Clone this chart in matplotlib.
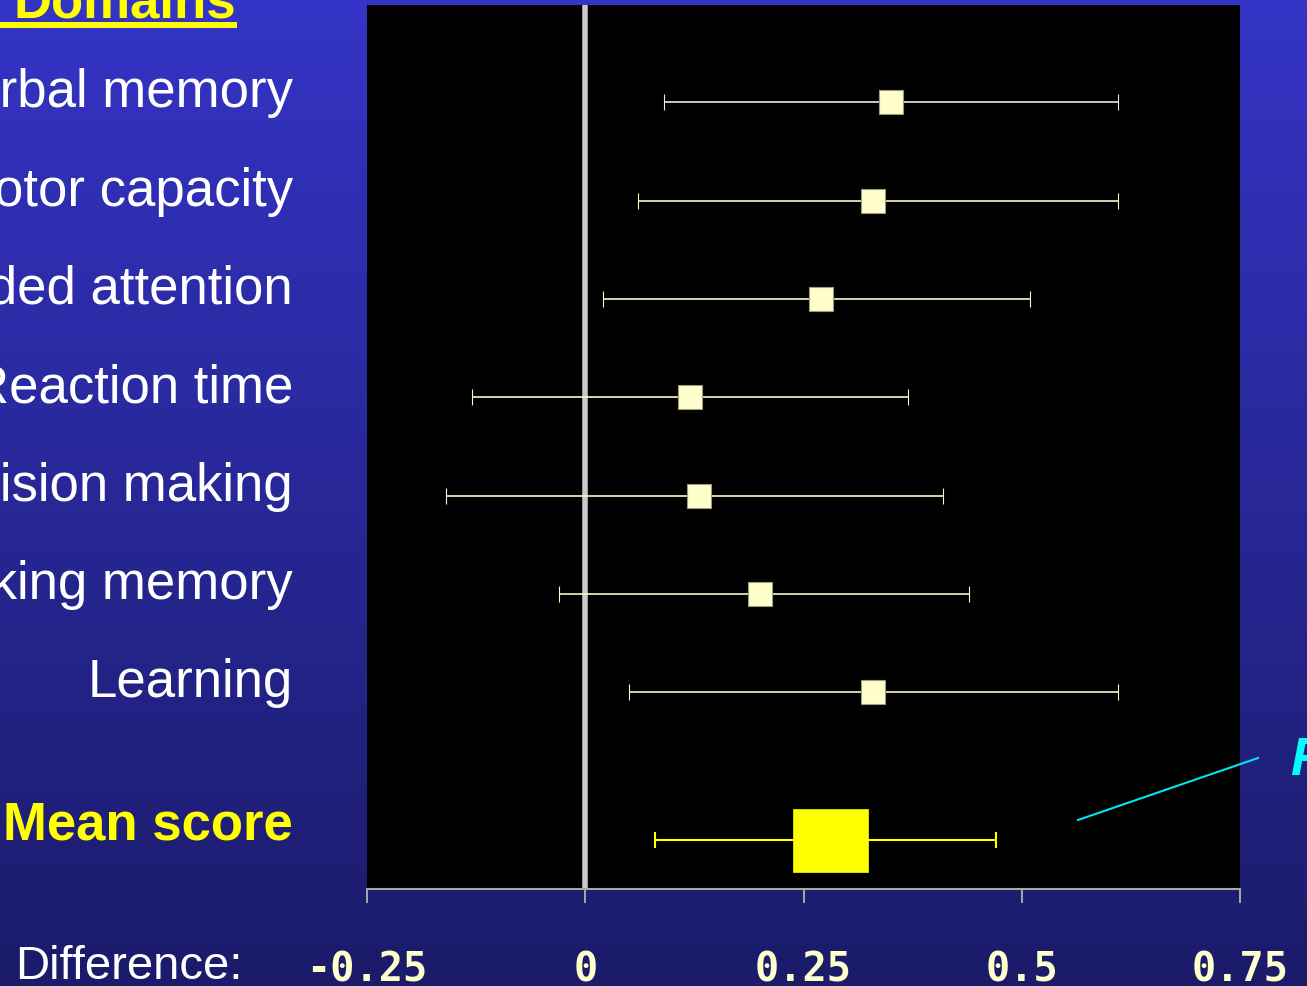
import numpy as np
import matplotlib
matplotlib.use("Agg")
import matplotlib.pyplot as plt
from matplotlib.lines import Line2D
from matplotlib.path import Path
import matplotlib.transforms as mtransforms

# ---- data ----
domains = ["Verbal memory", "Motor capacity", "Divided attention", "Reaction time",
           "Decision making", "Working memory", "Learning"]
effect = [0.35, 0.33, 0.27, 0.12, 0.13, 0.20, 0.33]
ci_low = [0.09, 0.06, 0.02, -0.13, -0.16, -0.03, 0.05]
ci_high = [0.61, 0.61, 0.51, 0.37, 0.41, 0.44, 0.61]
mean_label = "Mean score"
mean_effect = 0.28
mean_low = 0.08
mean_high = 0.47
xticks = [-0.25, 0, 0.25, 0.5, 0.75]
xtick_labels = ["-0.25", "0", "0.25", "0.5", "0.75"]

W, H = 1307, 986
fig = plt.figure(figsize=(W / 100, H / 100), dpi=100)

# background gradient
bg = fig.add_axes([0, 0, 1, 1], zorder=-10)
top = np.array([0x34, 0x34, 0xc6]) / 255
bot = np.array([0x1b, 0x1b, 0x6a]) / 255
t = np.linspace(0, 1, 256)[:, None]
grad = (top[None, :] * (1 - t) + bot[None, :] * t)[:, None, :]
bg.imshow(grad, aspect="auto", extent=[0, 1, 0, 1], interpolation="bilinear")
bg.set_axis_off()

# main axes
left, right, ytop, ybot = 367, 1240, 5, 889
ax = fig.add_axes([left / W, 1 - ybot / H, (right - left) / W, (ybot - ytop) / H])
ax.set_facecolor("black")
ax.set_xlim(-0.25, 0.75)
ax.set_ylim(8.0, -0.99)

rows = np.arange(len(domains), dtype=float)
mean_row = len(domains) + 0.5

ax.axvline(0, color="#c8c8c8", lw=4, zorder=1)

for i in range(len(domains)):
    col = "#e8e8e8" if i == 0 else "#f8f8c8"
    ax.errorbar([effect[i]], [rows[i]],
                xerr=[[effect[i] - ci_low[i]], [ci_high[i] - effect[i]]],
                fmt="s", color=col, ecolor=col, elinewidth=1.2, capsize=5.5,
                capthick=1.2, markersize=17, markerfacecolor="#ffffcc",
                markeredgecolor="#9a9a80", markeredgewidth=0.8, zorder=3)

rect = Path([(-1, -0.84), (1, -0.84), (1, 0.84), (-1, 0.84), (-1, -0.84)],
            [Path.MOVETO, Path.LINETO, Path.LINETO, Path.LINETO, Path.CLOSEPOLY])
ax.errorbar([mean_effect], [mean_row],
            xerr=[[mean_effect - mean_low], [mean_high - mean_effect]],
            fmt="none", ecolor="#ffff00", elinewidth=1.5, capsize=5.5, capthick=1.5, zorder=3)
ax.plot([mean_effect], [mean_row], linestyle="none", marker=rect, markersize=54,
        markerfacecolor="#ffff00", markeredgecolor="#ffff00", markeredgewidth=0.5, zorder=4)

for s in ["top", "left", "right"]:
    ax.spines[s].set_visible(False)
ax.spines["bottom"].set_color("#a8a8a8")
ax.spines["bottom"].set_linewidth(1.5)
ax.set_yticks([])
ax.set_xticks(xticks)
ax.set_xticklabels(xtick_labels, family="DejaVu Sans Mono", fontweight="bold",
                   fontsize=29, color="#ffffcc")
ax.tick_params(axis="x", length=10, width=1.2, color="#c0c0c0", pad=34)

# row labels
trans = mtransforms.blended_transform_factory(fig.transFigure, ax.transData)
for i, name in enumerate(domains):
    ax.text(293 / W, rows[i] + 0.05, name, transform=trans, ha="right", va="baseline",
            family="Liberation Sans", fontsize=38, color="white", clip_on=False)
ax.text(293 / W, mean_row, mean_label, transform=trans, ha="right", va="baseline",
        family="Liberation Sans", fontsize=38, fontweight="bold", color="#ffff00", clip_on=False)

# title
title = fig.text(236 / W, 1 - 18 / H, "Domains", ha="right", va="baseline",
                 family="Liberation Sans", fontsize=38, fontweight="bold", color="#ffff00")

fig.text(15 / W, 1 - 979 / H, "Difference:", ha="left", va="baseline",
         family="Liberation Sans", fontsize=34, color="white")

# annotation pointer and cut-off label
fig.add_artist(Line2D([1078 / W, 1258 / W], [1 - 820 / H, 1 - 758 / H],
                      transform=fig.transFigure, color="#00e5f0", lw=1.5))
fig.text(1290 / W, 1 - 775 / H, "F", ha="left", va="baseline", family="Liberation Sans",
         fontsize=38, fontweight="bold", style="italic", color="#00ffff")

fig.canvas.draw()
bb = title.get_window_extent()
fig.add_artist(Line2D([0, (bb.x1 + 1) / W], [1 - 25 / H, 1 - 25 / H], transform=fig.transFigure,
                      color="#ffff00", lw=4.3, solid_capstyle="butt"))

fig.savefig("out.png", dpi=100)
